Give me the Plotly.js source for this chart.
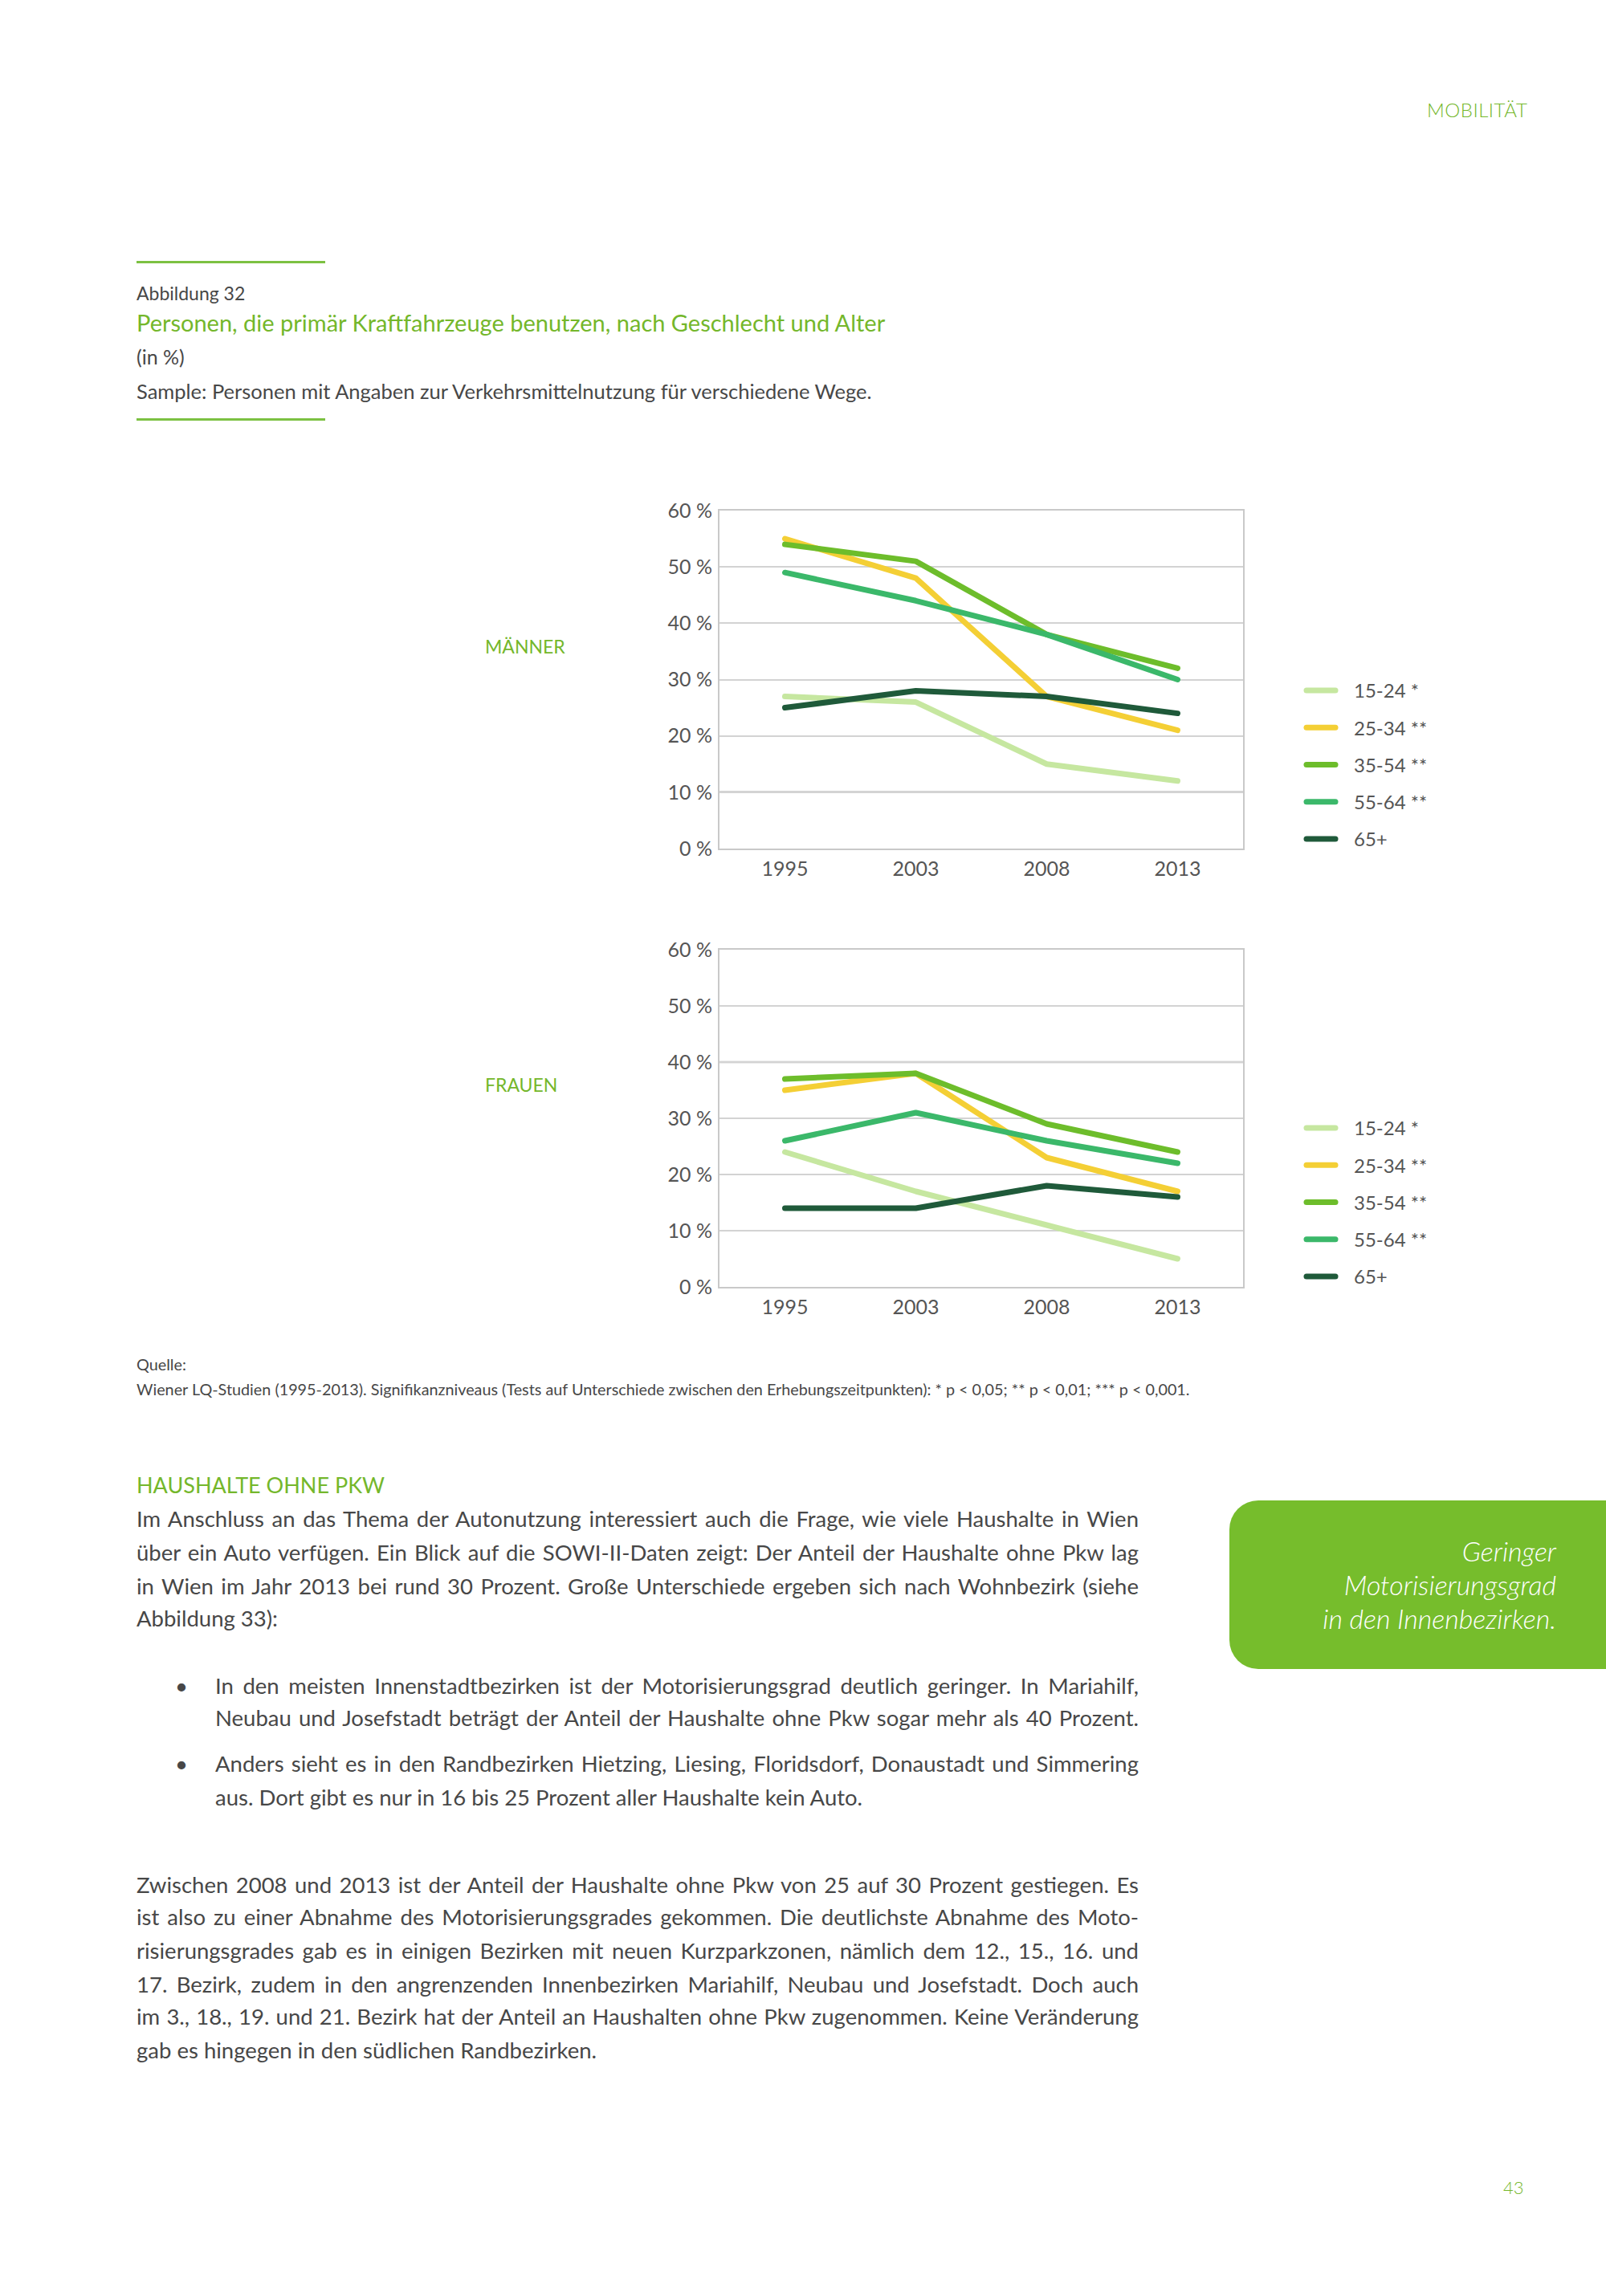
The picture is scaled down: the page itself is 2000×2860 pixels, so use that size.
<!DOCTYPE html>
<html>
<head>
<meta charset="utf-8">
<script src="https://cdn.plot.ly/plotly-3.0.1.min.js"></script>
<style>
  html, body { margin:0; padding:0; background:#fff; }
  #page { position:relative; width:2000px; height:2860px; overflow:hidden; background:#fff; font-family: Lato, "Open Sans", sans-serif; color:#474747; }
  #chart { position:absolute; left:0; top:0; width:2000px; height:2860px; }
  .t { position:absolute; white-space:nowrap; z-index:10; }
  .j { text-align:justify; text-align-last:justify; }
  .green { color:#74b72b; }
  .rule { position:absolute; height:3px; background:#7cc142; z-index:10; }
  #box { position:absolute; left:1531px; top:1869px; width:469px; height:210px; background:#76bd2c; border-radius:36px 0 0 36px; z-index:10; }
  #boxtext { position:absolute; right:62px; top:42px; text-align:right; color:#fff; font-style:italic; font-size:34px; line-height:42px; white-space:nowrap; font-weight:300; }
  .scatterlayer .js-line { stroke-linecap: round; stroke-linejoin: round; }
  .legendlines path { stroke-linecap: round; stroke-width: 7px !important; }
</style>
</head>
<body>
<div id="page">
  <div id="chart"></div>

  <div class="t green" style="left:1777px; top:122px; font-size:24px; line-height:30px; font-weight:300; letter-spacing:0.5px;">MOBILITÄT</div>

  <div class="rule" style="left:170px; top:325px; width:235px;"></div>
  <div class="t" style="left:170px; top:351px; font-size:23px; line-height:28px;">Abbildung 32</div>
  <div class="t green" style="left:170px; top:384px; font-size:29px; line-height:36px;">Personen, die primär Kraftfahrzeuge benutzen, nach Geschlecht und Alter</div>
  <div class="t" style="left:170px; top:429px; font-size:25px; line-height:30px;">(in %)</div>
  <div class="t" style="left:170px; top:471px; font-size:25.5px; line-height:32px;">Sample: Personen mit Angaben zur Verkehrsmittelnutzung für verschiedene Wege.</div>
  <div class="rule" style="left:170px; top:521px; width:235px;"></div>

  <div class="t" style="left:170px; top:1686px; font-size:19.8px; line-height:26px;">Quelle:</div>
  <div class="t" style="left:170px; top:1717px; font-size:19.8px; line-height:26px;">Wiener LQ-Studien (1995-2013). Signifikanzniveaus (Tests auf Unterschiede zwischen den Erhebungszeitpunkten): * p &lt; 0,05; ** p &lt; 0,01; *** p &lt; 0,001.</div>

  <div class="t green" style="left:170px; top:1833px; font-size:27px; line-height:34px;">HAUSHALTE OHNE PKW</div>

  <div class="t j" style="left:170px; top:1872px; width:1248px; font-size:27.5px; line-height:40px;">Im Anschluss an das Thema der Autonutzung interessiert auch die Frage, wie viele Haushalte in Wien</div>
  <div class="t j" style="left:170px; top:1914px; width:1248px; font-size:27.5px; line-height:40px;">über ein Auto verfügen. Ein Blick auf die SOWI-II-Daten zeigt: Der Anteil der Haushalte ohne Pkw lag</div>
  <div class="t j" style="left:170px; top:1956px; width:1248px; font-size:27.5px; line-height:40px;">in Wien im Jahr 2013 bei rund 30 Prozent. Große Unterschiede ergeben sich nach Wohnbezirk (siehe</div>
  <div class="t" style="left:170px; top:1996px; font-size:27.5px; line-height:40px;">Abbildung 33):</div>

  <div class="t" style="left:218px; top:2080px; font-size:27.5px; line-height:40px;">•</div>
  <div class="t j" style="left:268px; top:2080px; width:1150px; font-size:27.5px; line-height:40px;">In den meisten Innenstadtbezirken ist der Motorisierungsgrad deutlich geringer. In Mariahilf,</div>
  <div class="t j" style="left:268px; top:2120px; width:1150px; font-size:27.5px; line-height:40px;">Neubau und Josefstadt beträgt der Anteil der Haushalte ohne Pkw sogar mehr als 40 Prozent.</div>
  <div class="t" style="left:218px; top:2177px; font-size:27.5px; line-height:40px;">•</div>
  <div class="t j" style="left:268px; top:2177px; width:1150px; font-size:27.5px; line-height:40px;">Anders sieht es in den Randbezirken Hietzing, Liesing, Floridsdorf, Donaustadt und Simmering</div>
  <div class="t" style="left:268px; top:2219px; font-size:27.5px; line-height:40px;">aus. Dort gibt es nur in 16 bis 25 Prozent aller Haushalte kein Auto.</div>

  <div class="t j" style="left:170px; top:2328px; width:1248px; font-size:27.5px; line-height:40px;">Zwischen 2008 und 2013 ist der Anteil der Haushalte ohne Pkw von 25 auf 30 Prozent gestiegen. Es</div>
  <div class="t j" style="left:170px; top:2368px; width:1248px; font-size:27.5px; line-height:40px;">ist also zu einer Abnahme des Motorisierungsgrades gekommen. Die deutlichste  Abnahme des Moto-</div>
  <div class="t j" style="left:170px; top:2410px; width:1248px; font-size:27.5px; line-height:40px;">risierungsgrades gab es in einigen Bezirken mit neuen Kurzparkzonen, nämlich dem 12., 15., 16. und</div>
  <div class="t j" style="left:170px; top:2452px; width:1248px; font-size:27.5px; line-height:40px;">17. Bezirk, zudem in den angrenzenden Innenbezirken Mariahilf, Neubau und Josefstadt. Doch auch</div>
  <div class="t j" style="left:170px; top:2492px; width:1248px; font-size:27.5px; line-height:40px;">im 3., 18., 19. und 21. Bezirk hat der Anteil an Haushalten ohne Pkw zugenommen. Keine Veränderung</div>
  <div class="t" style="left:170px; top:2534px; font-size:27.5px; line-height:40px;">gab es hingegen in den südlichen Randbezirken.</div>

  <div id="box"><div id="boxtext">Geringer<br>Motorisierungsgrad<br>in den Innenbezirken.</div></div>

  <div class="t green" style="left:1872px; top:2710px; font-size:22px; line-height:30px; font-weight:300;">43</div>
</div>

<script>
// ---- data ----
const years = ['1995', '2003', '2008', '2013'];
const ageGroups = ['15-24 *', '25-34 **', '35-54 **', '55-64 **', '65+'];

const men_15_24 = [27, 26, 15, 12];
const men_25_34 = [55, 48, 27, 21];
const men_35_54 = [54, 51, 38, 32];
const men_55_64 = [49, 44, 38, 30];
const men_65plus = [25, 28, 27, 24];

const women_15_24 = [24, 17, 11, 5];
const women_25_34 = [35, 38, 23, 17];
const women_35_54 = [37, 38, 29, 24];
const women_55_64 = [26, 31, 26, 22];
const women_65plus = [14, 14, 18, 16];

const panelLabels = ['MÄNNER', 'FRAUEN'];

// ---- styles ----
const colors = ['#c6e7a0', '#f4cf35', '#6dbd2b', '#3bb86a', '#1f5a3a'];
const menSeries = [men_15_24, men_25_34, men_35_54, men_55_64, men_65plus];
const womenSeries = [women_15_24, women_25_34, women_35_54, women_55_64, women_65plus];
const legendPad = '\u2002\u2005';

const W = 2000, H = 2860;
const px = v => v / W;
const py = v => 1 - v / H;

const traces = [];
menSeries.forEach((vals, i) => {
  traces.push({
    type: 'scatter', mode: 'lines', x: years, y: vals, name: legendPad + ageGroups[i],
    xaxis: 'x', yaxis: 'y', legend: 'legend', legendgroup: 'm' + i,
    line: { color: colors[i], width: 7 }, hoverinfo: 'skip'
  });
});
womenSeries.forEach((vals, i) => {
  traces.push({
    type: 'scatter', mode: 'lines', x: years, y: vals, name: legendPad + ageGroups[i],
    xaxis: 'x2', yaxis: 'y2', legend: 'legend2', legendgroup: 'w' + i,
    line: { color: colors[i], width: 7 }, hoverinfo: 'skip'
  });
});

const tickFont = { family: 'Lato, "Open Sans", sans-serif', size: 25, color: '#555555' };
const frameColor = '#c9c9c9';

function xAxis(anchor) {
  return {
    domain: [px(896), px(1548)], anchor: anchor, type: 'category',
    range: [-0.5, 3.5], showgrid: false, showline: true, mirror: true,
    linecolor: frameColor, linewidth: 2, ticks: '', tickfont: tickFont,
    ticklabelstandoff: 2, fixedrange: true, zeroline: false
  };
}
function yAxis(anchor, top, bottom) {
  return {
    domain: [py(bottom), py(top)], anchor: anchor, range: [0, 60], dtick: 10,
    ticksuffix: ' %', showgrid: true, gridcolor: '#d3d3d3', gridwidth: 2,
    showline: true, mirror: true, linecolor: frameColor, linewidth: 2,
    ticks: '', tickfont: tickFont, ticklabelstandoff: 2, zeroline: false, fixedrange: true
  };
}

const legendFont = { family: 'Lato, "Open Sans", sans-serif', size: 24, color: '#555555' };

function legendAt(topPx) {
  return {
    x: px(1622), y: py(topPx), xanchor: 'left', yanchor: 'top',
    font: legendFont, itemwidth: 36, tracegroupgap: 12,
    bgcolor: 'rgba(0,0,0,0)', borderwidth: 0, traceorder: 'grouped'
  };
}

const layout = {
  width: W, height: H,
  margin: { l: 0, r: 0, t: 0, b: 0 },
  paper_bgcolor: '#ffffff', plot_bgcolor: '#ffffff',
  showlegend: true,
  xaxis: xAxis('y'),
  yaxis: yAxis('x', 636, 1057),
  xaxis2: xAxis('y2'),
  yaxis2: yAxis('x2', 1183, 1603),
  legend: legendAt(838),
  legend2: legendAt(1383),
  shapes: [
    { type: 'line', xref: 'x domain', yref: 'y', x0: 0, x1: 1, y0: 10, y1: 10,
      line: { color: '#a9a9a9', width: 2.5 }, layer: 'below' },
    { type: 'line', xref: 'x2 domain', yref: 'y2', x0: 0, x1: 1, y0: 40, y1: 40,
      line: { color: '#b4b4b4', width: 2.5 }, layer: 'below' }
  ],
  annotations: [
    { text: panelLabels[0], xref: 'paper', yref: 'paper', x: px(602), y: py(805),
      xanchor: 'left', yanchor: 'middle', showarrow: false,
      font: { family: 'Lato, "Open Sans", sans-serif', size: 23, color: '#74b72b' } },
    { text: panelLabels[1], xref: 'paper', yref: 'paper', x: px(602), y: py(1351),
      xanchor: 'left', yanchor: 'middle', showarrow: false,
      font: { family: 'Lato, "Open Sans", sans-serif', size: 23, color: '#74b72b' } }
  ]
};

Plotly.newPlot('chart', traces, layout, { displayModeBar: false, staticPlot: true });
</script>
</body>
</html>
